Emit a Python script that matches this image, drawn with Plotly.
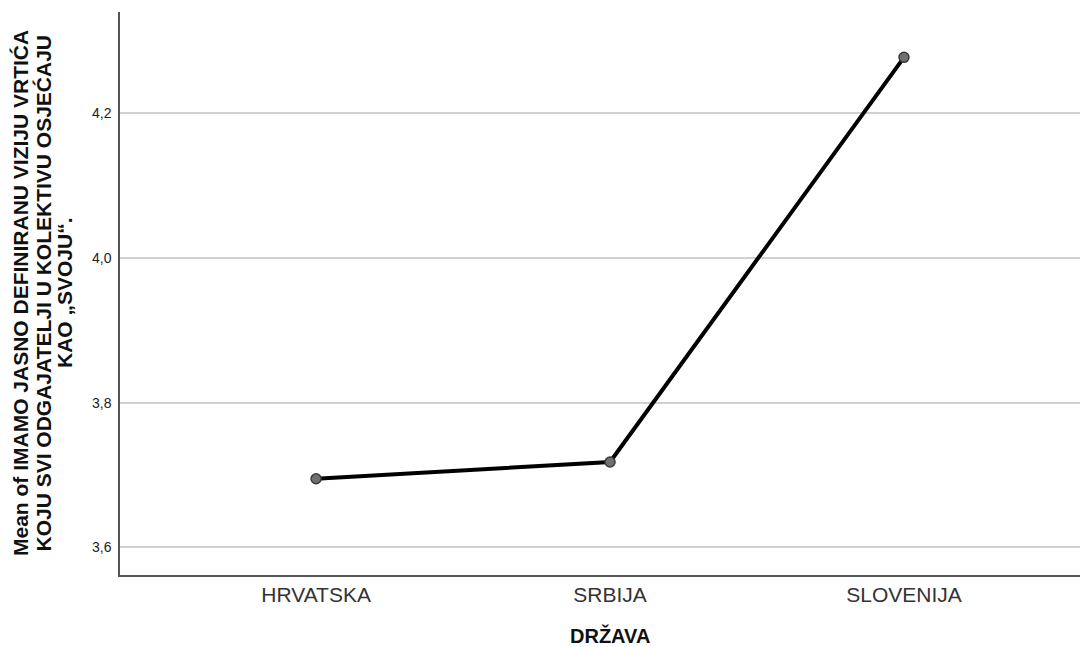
import plotly.graph_objects as go

categories = ["HRVATSKA", "SRBIJA", "SLOVENIJA"]
means = [3.695, 3.718, 4.277]
y_ticks = [3.6, 3.8, 4.0, 4.2]
y_title_lines = [
    "Mean of IMAMO JASNO DEFINIRANU VIZIJU VRTIĆA",
    "KOJU SVI ODGAJATELJI U KOLEKTIVU OSJEĆAJU",
    "KAO „SVOJU“.",
]
x_title = "DRŽAVA"

FONT = "Arial, Liberation Sans, sans-serif"

fig = go.Figure()
fig.add_trace(go.Scatter(
    x=categories, y=means, mode="lines+markers",
    line=dict(color="black", width=4),
    marker=dict(size=10, color="#707070", line=dict(color="#3a3a3a", width=1.5)),
    showlegend=False,
))

# page body has an 8px margin; compensate so the plot lands where the reference has it
W, H = 1080, 639
ml, mr, mt, mb = 112, 0, 4, 72
PW, PH = 968, 563          # plot area size
X0, Y1 = 120, 575          # plot area left / bottom in window pixels

def px(x):
    return (x - X0) / PW

def py(y):
    return (Y1 - y) / PH

annotations = []
for cx, line in zip([20, 42.5, 64], y_title_lines):
    annotations.append(dict(
        text="<b>" + line + "</b>", textangle=-90, xref="paper", yref="paper",
        x=px(cx), y=py(293), xanchor="center", yanchor="middle", showarrow=False,
        font=dict(size=21, color="#111111", family=FONT),
    ))
annotations.append(dict(
    text="<b>" + x_title + "</b>", xref="paper", yref="paper",
    x=px(610), y=py(635), xanchor="center", yanchor="middle", showarrow=False,
    font=dict(size=20, color="#111111", family=FONT),
))

fig.update_layout(
    width=W, height=H,
    margin=dict(l=ml, r=mr, t=mt, b=mb),
    paper_bgcolor="white", plot_bgcolor="white",
    separators=",.",
    font=dict(family=FONT, color="#222222"),
    xaxis=dict(
        type="category", range=[-0.667, 2.626],
        showgrid=False, showline=True, linecolor="#555555", linewidth=1.5,
        ticks="", tickfont=dict(size=21, color="#333333"),
        zeroline=False,
    ),
    yaxis=dict(
        range=[3.562, 4.3396], tickvals=y_ticks, tickformat=".1f",
        showgrid=True, gridcolor="#d0d0d0", gridwidth=1.5,
        showline=True, linecolor="#555555", linewidth=1.5,
        ticks="outside", ticklen=4, tickcolor="rgba(0,0,0,0)",
        tickfont=dict(size=14, color="#222222"), zeroline=False,
    ),
    annotations=annotations,
)
fig.write_html("out.html")
